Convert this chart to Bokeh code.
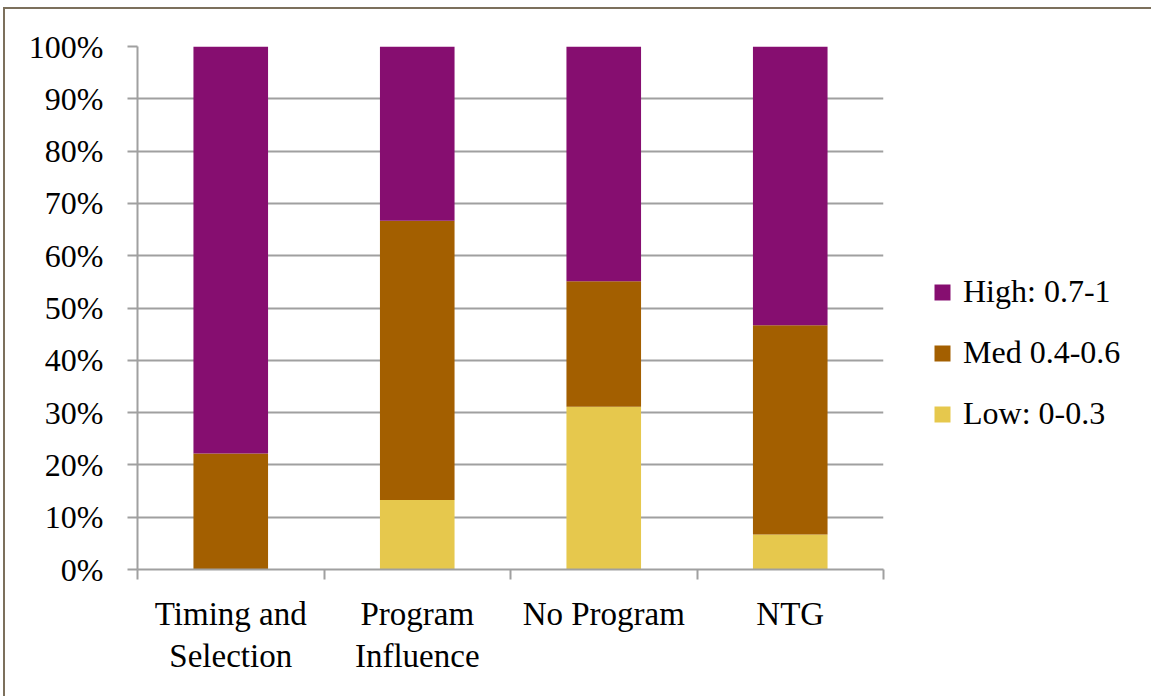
from bokeh.plotting import figure
from bokeh.models import FixedTicker, NumeralTickFormatter, Legend, LegendItem, Range1d
from bokeh.embed import file_html
from bokeh.resources import INLINE

categories = ["Timing and\nSelection", "Program\nInfluence", "No Program", "NTG"]
low = [0.0, 0.133, 0.311, 0.067]
med = [0.222, 0.534, 0.240, 0.400]
high = [0.778, 0.333, 0.449, 0.533]
series_names = ["Low: 0-0.3", "Med 0.4-0.6", "High: 0.7-1"]
colors = ["#E6C84D", "#A35F00", "#860E70"]
y_ticks = [i / 10 for i in range(11)]

FONT = "Liberation Serif"
FS = "32px"
GRID = "#A0A0A0"
EDGE = "#7C705C"

xs = [i + 0.5 for i in range(len(categories))]
data = dict(x=xs, low=low, med=med, high=high)

p = figure(frame_width=746, frame_height=523, output_backend="svg", toolbar_location=None,
           x_range=Range1d(0, len(categories)), y_range=Range1d(0, 1),
           min_border_left=137, min_border_top=46, min_border_bottom=127,
           min_border_right=262)
p.outline_line_color = None
p.background_fill_color = "white"
p.border_fill_alpha = 0
p.styles = {"background": (f"linear-gradient({EDGE},{EDGE}) 3px 7px / 2px 100% no-repeat, "
                           f"linear-gradient({EDGE},{EDGE}) 3px 7px / 100% 2px no-repeat, white")}

rs = p.vbar_stack(["low", "med", "high"], x="x", width=0.4, source=data,
                  color=colors, line_color=None)

# x axis
p.xaxis.ticker = FixedTicker(ticks=xs, minor_ticks=list(range(len(categories) + 1)))
p.xaxis.major_label_overrides = {x: c for x, c in zip(xs, categories)}
p.xaxis.major_tick_out = 0
p.xaxis.major_tick_in = 0
p.xaxis.minor_tick_out = 10
p.xaxis.minor_tick_in = 0
p.xaxis.minor_tick_line_color = GRID
p.xaxis.minor_tick_line_width = 2
p.xaxis.axis_line_color = GRID
p.xaxis.axis_line_width = 2
p.xaxis.major_label_text_font = FONT
p.xaxis.major_label_text_font_size = "33px"
p.xaxis.major_label_text_color = "black"
p.xaxis.major_label_standoff = 16
p.xaxis.major_label_text_line_height = 1.17

# y axis
p.yaxis.ticker = FixedTicker(ticks=y_ticks)
p.yaxis.formatter = NumeralTickFormatter(format="0%")
p.yaxis.minor_tick_line_color = None
p.yaxis.major_tick_out = 10
p.yaxis.major_tick_in = 0
p.yaxis.major_tick_line_color = GRID
p.yaxis.major_tick_line_width = 2
p.yaxis.axis_line_color = GRID
p.yaxis.axis_line_width = 2
p.yaxis.major_label_text_font = FONT
p.yaxis.major_label_text_font_size = FS
p.yaxis.major_label_text_color = "black"
p.yaxis.major_label_standoff = 24

p.xgrid.grid_line_color = None
p.ygrid.ticker = FixedTicker(ticks=y_ticks)
p.ygrid.grid_line_color = GRID
p.ygrid.grid_line_width = 2

items = [LegendItem(label=series_names[i], renderers=[rs[i]]) for i in [2, 1, 0]]
legend = Legend(items=items, location=(49, 137), orientation="vertical")
legend.border_line_color = None
legend.background_fill_alpha = 0
legend.label_text_font = FONT
legend.label_text_font_size = FS
legend.label_text_color = "black"
legend.glyph_width = 20
legend.glyph_height = 20
legend.label_height = 30
legend.spacing = 24
legend.padding = 0
legend.margin = 0
legend.label_standoff = 11
p.add_layout(legend, "right")

open("out.html", "w").write(file_html(p, INLINE))
